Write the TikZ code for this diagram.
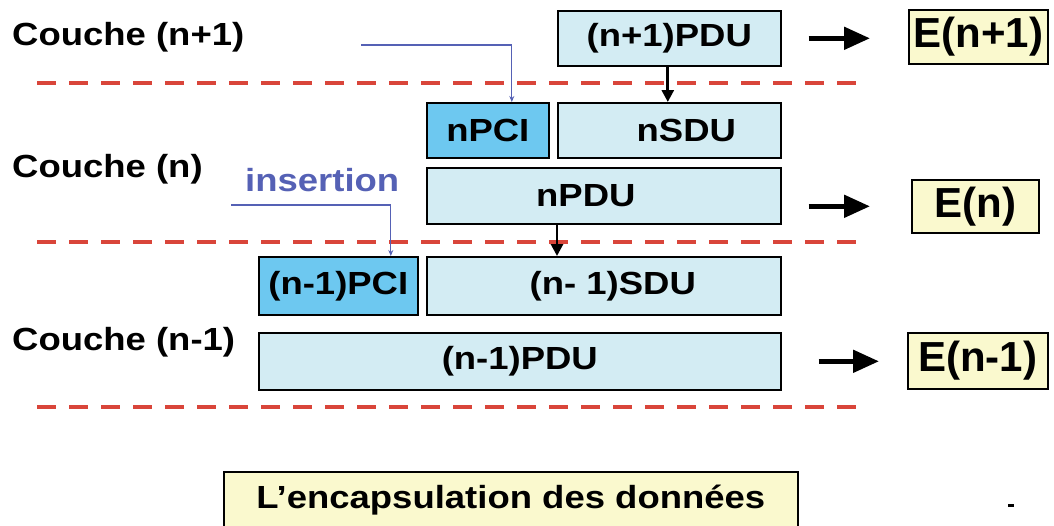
\documentclass[tikz,border=0pt]{standalone}
\usepackage{fontspec}
\setmainfont[FakeStretch=1.14]{Liberation Sans}
\newfontfamily\entfont{Liberation Sans}
\usepackage{tikz}
\usetikzlibrary{positioning}
\usetikzlibrary{arrows.meta}

\definecolor{sdufill}{HTML}{D3ECF3}
\definecolor{pcifill}{HTML}{6DC8F0}
\definecolor{entfill}{HTML}{FAF9CE}
\definecolor{sepred}{HTML}{D9453A}
\definecolor{insblue}{HTML}{5561B5}

\tikzset{
        layer/.style={anchor=base west, inner sep=0pt, font=\bfseries\fontsize{32}{36}\selectfont},
        sdu/.style={draw=black, line width=1.6pt, fill=sdufill, anchor=north west, inner sep=0pt, font=\bfseries\fontsize{32}{36}\selectfont},
        pci/.style={sdu, fill=pcifill},
        ent/.style={draw=black, line width=1.6pt, fill=entfill, anchor=north west, inner sep=0pt, font=\entfont\bfseries\fontsize{42}{44}\selectfont},
        sep/.style={draw=sepred, line width=4pt, dash pattern=on 19pt off 13pt},
        push/.style={line width=5pt, -{Triangle[length=26pt,width=22pt]}},
        down/.style={line width=2.8pt, -{Triangle[length=12pt,width=12pt]}},
        insert/.style={draw=insblue, line width=1.2pt, -{Stealth[length=6pt,width=5pt]}}
}

\begin{document}
\begin{tikzpicture}[x=1pt,y=-1pt]
              \useasboundingbox (0,0) rectangle (1054,525);

              \foreach \y in {83,242,407}
                \draw[sep] (37,\y) -- (867,\y);

              \node[layer] (cnp1) at (12,45) {Couche (n+1)};
              \node[layer] (cn) at (12,177) {Couche (n)};
              \node[layer] (cnm1) at (12,350) {Couche (n-1)};

              \node[sdu, minimum width=223pt, minimum height=55pt] (pdunp1) at (557,10) {(n+1)PDU};
              \node[pci, minimum width=122pt, minimum height=55pt] (pcin) at (426,102) {nPCI};
              \node[sdu, minimum width=223pt, minimum height=55pt] (sdun) at (557,102) {\hspace*{34pt}nSDU};
              \node[sdu, minimum width=354pt, minimum height=56pt] (pdun) at (426,167) {nPDU\hspace*{36pt}};
              \node[pci, minimum width=159pt, minimum height=58pt] (pcinm1) at (258,256) {(n-1)PCI};
              \node[sdu, minimum width=354pt, minimum height=58pt] (sdunm1) at (426,256) {\hspace*{18pt}(n- 1)SDU};
              \node[sdu, minimum width=522pt, minimum height=57pt] (pdunm1) at (258,332) {(n-1)PDU};

              \node[ent, minimum width=139pt, minimum height=54pt] (enp1) at (908,9) {E(n+1)};
              \node[ent, minimum width=127pt, minimum height=53pt] (en) at (911,179) {E(n)};
              \node[ent, minimum width=140pt, minimum height=56pt] (enm1) at (907,332) {E(n-1)};

              \draw[push] ([xshift=27pt]pdunp1.east) -- ([xshift=-38pt]pdunp1.east -| enp1.west);
              \draw[push] ([xshift=27pt]pdun.east |- en.west) -- ([xshift=-41pt]en.west);
              \draw[push] ([xshift=37pt]pdunm1.east) -- ([xshift=-28pt]pdunm1.east -| enm1.west);

              \draw[down] ([xshift=-1.5pt]pdunp1.south) -- ([xshift=-1.5pt]sdun.north);
              \draw[down] (pdun.south -| sdun.west) -- (sdunm1.north -| sdun.west);

              \coordinate (srcn) at (361,45);
              \coordinate (srcnm1) at (231,205);
              \node[anchor=base west, inner sep=0pt, text=insblue, font=\bfseries\fontsize{32}{36}\selectfont] (ins) at (245,191) {insertion};
              \draw[insert] (srcn) -| ([xshift=24pt]pcin.north);
              \draw[insert] (srcnm1) -| ([xshift=52.5pt]pcinm1.north);

              \node[draw=black, line width=1.6pt, fill=entfill, anchor=north west, minimum width=574pt, minimum height=57pt, inner sep=0pt, font=\bfseries\fontsize{32}{36}\selectfont] (title) at (223,471) {L’encapsulation des données};

              \fill (1008,504) rectangle (1014,507);
            \end{tikzpicture}
\end{document}
